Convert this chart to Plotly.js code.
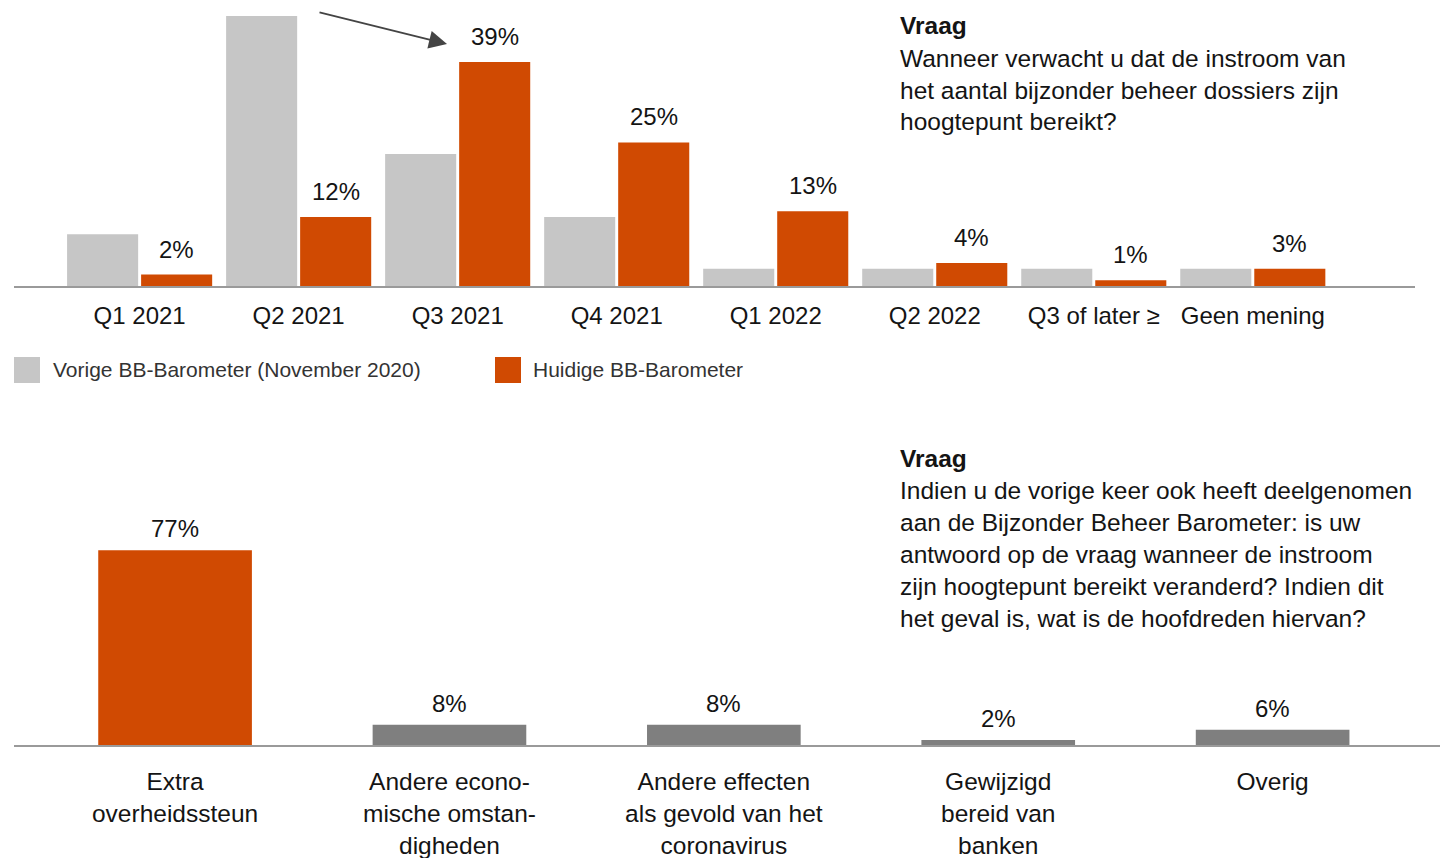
<!DOCTYPE html>
<html>
<head>
<meta charset="utf-8">
<script src="https://cdn.plot.ly/plotly-3.0.1.min.js"></script>
<style>html,body{margin:0;padding:0;background:#fff;}#chart{width:1440px;height:858px;}</style>
</head>
<body>
<div id="chart"></div>
<script>
// ---- data ----
const periods = ["Q1 2021", "Q2 2021", "Q3 2021", "Q4 2021", "Q1 2022", "Q2 2022", "Q3 of later ≥", "Geen mening"];
const previousValues = [9, 47, 23, 12, 3, 3, 3, 3];
const currentValues = [2, 12, 39, 25, 13, 4, 1, 3];
const previousName = "Vorige BB-Barometer (November 2020)";
const currentName = "Huidige BB-Barometer";

const reasons = ["Extra<br>overheidssteun", "Andere econo-<br>mische omstan-<br>digheden", "Andere effecten<br>als gevold van het<br>coronavirus", "Gewijzigd<br>bereid van<br>banken", "Overig"];
const reasonValues = [77, 8, 8, 2, 6];

const question1 = ["Vraag", "Wanneer verwacht u dat de instroom van", "het aantal bijzonder beheer dossiers zijn", "hoogtepunt bereikt?"];
const question2 = ["Vraag", "Indien u de vorige keer ook heeft deelgenomen", "aan de Bijzonder Beheer Barometer: is uw", "antwoord op de vraag wanneer de instroom", "zijn hoogtepunt bereikt veranderd? Indien dit", "het geval is, wat is de hoofdreden hiervan?"];

// ---- style ----
const W = 1440, H = 858;
const ORANGE = "#D04A02", LIGHT = "#C6C6C6", DARK = "#7F7F7F", TXT = "#141414";
const FONT = "Liberation Sans, Arial, sans-serif";
const px = x => x / W;
const py = y => 1 - y / H;

const traces = [
  {type: "bar", x: periods, y: previousValues, name: previousName, marker: {color: LIGHT}, xaxis: "x", yaxis: "y", hoverinfo: "x+y"},
  {type: "bar", x: periods, y: currentValues, name: currentName, marker: {color: ORANGE}, xaxis: "x", yaxis: "y", hoverinfo: "x+y"},
  {type: "bar", x: reasons, y: reasonValues, name: "Hoofdreden", width: 0.56,
   marker: {color: reasonValues.map((v, i) => i === 0 ? ORANGE : DARK)}, xaxis: "x2", yaxis: "y2", hoverinfo: "y"}
];

const annotations = [];
currentValues.forEach((v, i) => annotations.push({
  xref: "x", yref: "y", x: periods[i], y: v, xshift: 37, yshift: 10,
  text: v + "%", showarrow: false, yanchor: "bottom", font: {family: FONT, size: 24, color: TXT}
}));
reasonValues.forEach((v, i) => annotations.push({
  xref: "x2", yref: "y2", x: reasons[i], y: v, yshift: 6,
  text: v + "%", showarrow: false, yanchor: "bottom", font: {family: FONT, size: 24, color: TXT}
}));
// question text
question1.forEach((t, i) => annotations.push({
  xref: "paper", yref: "paper", x: px(898), y: py(26 + 32 * i), xanchor: "left", yanchor: "middle",
  text: i === 0 ? "<b>" + t + "</b>" : t, showarrow: false, align: "left",
  font: {family: FONT, size: 24.5, color: TXT}
}));
question2.forEach((t, i) => annotations.push({
  xref: "paper", yref: "paper", x: px(898), y: py(458 + 32 * i), xanchor: "left", yanchor: "middle",
  text: i === 0 ? "<b>" + t + "</b>" : t, showarrow: false, align: "left",
  font: {family: FONT, size: 24.5, color: TXT}
}));
// legend text
annotations.push({xref: "paper", yref: "paper", x: px(51), y: py(370), xanchor: "left", yanchor: "middle",
  text: previousName, showarrow: false, font: {family: FONT, size: 21, color: "#333"}});
annotations.push({xref: "paper", yref: "paper", x: px(531), y: py(370), xanchor: "left", yanchor: "middle",
  text: currentName, showarrow: false, font: {family: FONT, size: 21, color: "#333"}});
// arrow
annotations.push({xref: "paper", yref: "paper", x: px(447), y: py(44), ax: -129, ay: -32,
  text: "", showarrow: true, arrowhead: 2, arrowsize: 1.8, arrowwidth: 2, arrowcolor: "#444", standoff: 0});

const shapes = [
  {type: "rect", xref: "paper", yref: "paper", x0: px(14), x1: px(40), y0: py(383), y1: py(357), fillcolor: LIGHT, line: {width: 0}},
  {type: "rect", xref: "paper", yref: "paper", x0: px(495), x1: px(521), y0: py(383), y1: py(357), fillcolor: ORANGE, line: {width: 0}}
];

const layout = {
  width: W, height: H,
  margin: {l: 0, r: 0, t: 0, b: 0},
  paper_bgcolor: "#fff", plot_bgcolor: "#fff",
  showlegend: false,
  barmode: "group", bargap: 0.069, bargroupgap: 0.04,
  font: {family: FONT, color: TXT},
  xaxis: {domain: [px(14), px(1415)], range: [-0.79, 8.02], anchor: "y",
    showline: true, linecolor: "#9a9a9a", linewidth: 2, ticks: "", showgrid: false, zeroline: false,
    tickfont: {family: FONT, size: 24, color: TXT}, ticklabelstandoff: 7, fixedrange: true},
  yaxis: {domain: [572 / H, 1], range: [0, 49.8], visible: false, showgrid: false, zeroline: false, fixedrange: true},
  xaxis2: {domain: [px(14), 1], range: [-0.587, 4.61], anchor: "y2",
    showline: true, linecolor: "#9a9a9a", linewidth: 2, ticks: "", showgrid: false, zeroline: false,
    tickfont: {family: FONT, size: 24.5, color: TXT}, ticklabelstandoff: 14, fixedrange: true},
  yaxis2: {domain: [113 / H, 366 / H], range: [0, 100], visible: false, showgrid: false, zeroline: false, fixedrange: true},
  annotations: annotations,
  shapes: shapes
};

Plotly.newPlot("chart", traces, layout, {displayModeBar: false, responsive: false});
</script>
</body>
</html>
